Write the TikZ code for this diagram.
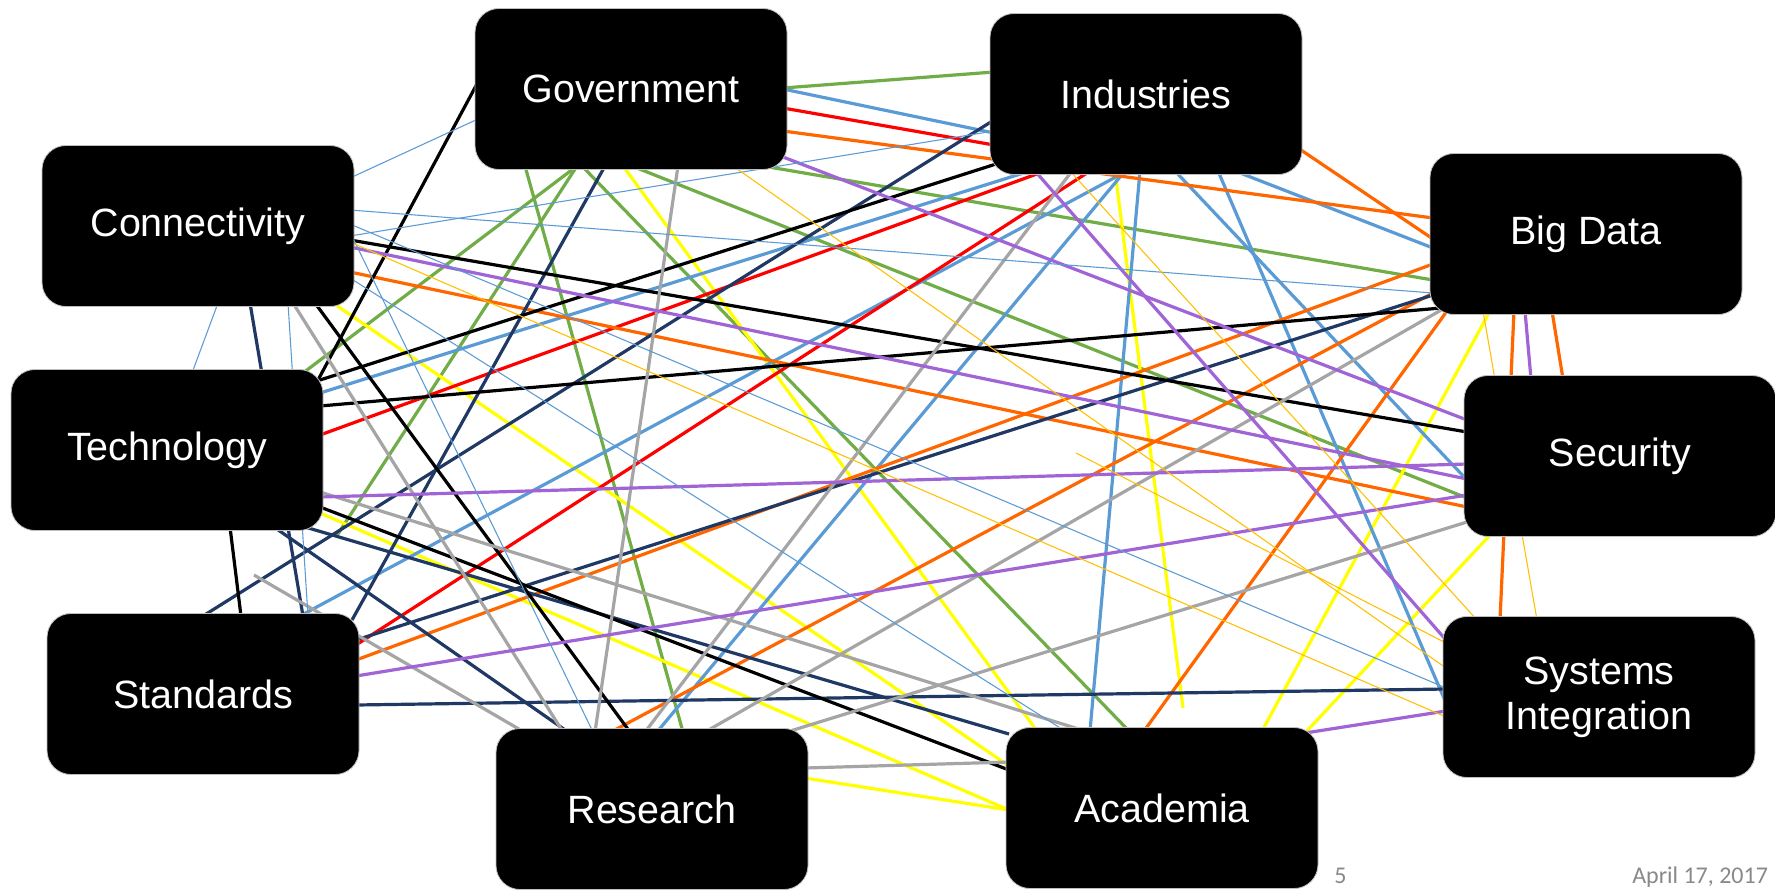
\documentclass[tikz,border=0pt]{standalone}
\usepackage{fontspec}
\setmainfont{Liberation Sans}
\newfontfamily\footfont{Carlito}
\usepackage{xcolor}
\usetikzlibrary{calc,backgrounds}

\definecolor{boxEdge}{RGB}{190,190,190}
\definecolor{lnGreen}{RGB}{112,173,71}
\definecolor{lnBlue}{RGB}{91,155,213}
\definecolor{lnRed}{RGB}{255,0,0}
\definecolor{lnOrange}{RGB}{255,102,0}
\definecolor{lnNavy}{RGB}{31,56,100}
\definecolor{lnGray}{RGB}{165,165,165}
\definecolor{lnYellow}{RGB}{255,255,0}
\definecolor{lnPurple}{RGB}{160,100,214}
\definecolor{lnGold}{RGB}{255,192,0}
\definecolor{footGray}{RGB}{137,137,137}

\begin{document}
\begin{tikzpicture}[x=0.75pt,y=0.75pt,yscale=-1,xscale=1,
  topic/.style={fill=black,draw=boxEdge,line width=0.6pt,rounded corners=18pt,minimum width=234pt,minimum height=120.75pt,inner sep=0pt,text=white,align=center,font=\fontsize{29.6}{34}\selectfont},
  link green/.style={lnGreen,line width=2.4pt},
  link yellow/.style={lnYellow,line width=2.4pt},
  link blue/.style={lnBlue,line width=2.4pt},
  link red/.style={lnRed,line width=2.4pt},
  link orange/.style={lnOrange,line width=2.4pt},
  link navy/.style={lnNavy,line width=2.4pt},
  link black/.style={black,line width=2.4pt},
  link gray/.style={lnGray,line width=2.4pt},
  link purple/.style={lnPurple,line width=2.4pt},
  link thin blue/.style={lnBlue,line width=0.8pt},
  link gold/.style={lnGold,line width=0.8pt},
  footer/.style={anchor=base west,inner sep=0pt,text=footGray,font=\footfont\fontsize{18}{20}\selectfont}]
\useasboundingbox (0,0) rectangle (1775,890);

% Boxes
\node[topic] (gov) at (631,89) {Government};
\node[topic] (ind) at (1146,94) {Industries};
\node[topic] (conn) at (198,226) {Connectivity};
\node[topic] (bigdata) at (1586,234) {Big Data};
\node[topic] (tech) at (167,450) {Technology};
\node[topic] (sec) at (1620,456) {Security};
\node[topic] (std) at (203,694) {Standards};
\node[topic] (sysint) at (1599,697) {Systems\\Integration};
\node[topic] (res) at (652,809) {Research};
\node[topic] (acad) at (1162,808) {Academia};

% loose ends
\coordinate (techgap) at ($(tech)+(169,87)$);
\coordinate (acadgap) at ($(acad)+(21,-100)$);
\coordinate (stdgap) at ($(std)+(51,-119)$);
\coordinate (goldgap) at ($(sysint)+(-523,-244)$);

% Footer
\node[footer] (pagenum) at (1334,883) {5};
\node[footer] (date) at (1632,883) {April 17, 2017};

\begin{pgfonlayer}{background}
\fill[white] (0,0) rectangle (1775,890);

% Government lines
\draw[link green] ($(gov)+(152,-1)$) -- ($(ind)+(-152,-22)$);
\draw[link green] ($(gov)+(132,77)$) -- ($(bigdata)+(-153,46)$);
\draw[link green] ($(gov)+(-54,77)$) -- ($(tech)+(136,-77)$);
\draw[link green] ($(gov)+(-54,77)$) -- (techgap);
\draw[link green] ($(gov)+(-106,77)$) -- ($(res)+(31,-77)$);
\draw[link green] ($(gov)+(-49,77)$) -- ($(acad)+(-33,-77)$);
\draw[link green] ($(gov)+(1,77)$) -- ($(sec)+(-153,42)$);

% Academia lines
\draw[link yellow] ($(conn)+(135,77)$) -- ($(acad)+(-153,-42)$);
\draw[link yellow] ($(tech)+(153,63)$) -- ($(acad)+(-153,2)$);
\draw[link yellow] ($(res)+(153,-31)$) -- ($(acad)+(-153,2)$);
\draw[link yellow] ($(gov)+(-8,77)$) -- ($(acad)+(-125,-77)$);
\draw[link yellow] ($(ind)+(-31,77)$) -- (acadgap);
\draw[link yellow] ($(bigdata)+(-96,77)$) -- ($(acad)+(100,-77)$);
\draw[link yellow] ($(sec)+(-128,77)$) -- ($(acad)+(143,-75)$);

% Industries lines
\draw[link blue] ($(gov)+(152,0)$) -- ($(ind)+(-152,39)$);
\draw[link blue] ($(tech)+(153,-57)$) -- ($(ind)+(-116,77)$);
\draw[link blue] ($(ind)+(-19,77)$) -- ($(std)+(97,-78)$);
\draw[link blue] ($(ind)+(-21,77)$) -- ($(res)+(5,-77)$);
\draw[link blue] ($(ind)+(-6,77)$) -- ($(acad)+(-72,-77)$);
\draw[link blue] ($(ind)+(29,77)$) -- ($(sec)+(-153,24)$);
\draw[link blue] ($(ind)+(72,77)$) -- ($(sysint)+(-153,6)$);
\draw[link blue] ($(ind)+(89,77)$) -- ($(bigdata)+(-153,14)$);
\draw[link red] ($(gov)+(152,19)$) -- ($(ind)+(-152,51)$);
\draw[link red] ($(tech)+(153,-15)$) -- ($(ind)+(-101,77)$);
\draw[link red] ($(std)+(153,-49)$) -- ($(ind)+(-56,77)$);

% Big Data lines
\draw[link orange] ($(gov)+(152,42)$) -- ($(bigdata)+(-153,-16)$);
\draw[link orange] ($(ind)+(152,54)$) -- ($(bigdata)+(-153,5)$);
\draw[link orange] ($(conn)+(152,46)$) -- ($(sec)+(-153,51)$);
\draw[link orange] ($(std)+(153,-34)$) -- ($(bigdata)+(-153,30)$);
\draw[link orange] ($(res)+(-41,-77)$) -- ($(bigdata)+(-153,59)$);
\draw[link orange] ($(acad)+(-18,-77)$) -- ($(bigdata)+(-139,77)$);
\draw[link orange] ($(bigdata)+(-72,77)$) -- ($(sysint)+(-99,-77)$);
\draw[link orange] ($(bigdata)+(-34,77)$) -- ($(sec)+(-57,-77)$);

% Standards lines
\draw[link navy] ($(conn)+(52,77)$) -- ($(std)+(100,-78)$);
\draw[link navy] ($(gov)+(-26,77)$) -- ($(std)+(149,-74)$);
\draw[link navy] ($(std)+(0,-78)$) -- ($(ind)+(-152,26)$);
\draw[link navy] ($(tech)+(107,77)$) -- ($(res)+(-84,-77)$);
\draw[link navy] ($(tech)+(138,77)$) -- ($(acad)+(-153,-74)$);
\draw[link navy] ($(std)+(153,11)$) -- ($(sysint)+(-153,-8)$);
\draw[link navy] ($(std)+(153,-54)$) -- ($(bigdata)+(-153,61)$);

% Technology lines
\draw[link black] ($(gov)+(-153,-7)$) -- ($(tech)+(151,-70)$);
\draw[link black] ($(tech)+(153,-70)$) -- ($(ind)+(-150,70)$);
\draw[link black] ($(tech)+(153,-44)$) -- ($(bigdata)+(-145,74)$);
\draw[link black] ($(conn)+(152,14)$) -- ($(sec)+(-153,-24)$);
\draw[link black] ($(conn)+(117,77)$) -- ($(res)+(-22,-77)$);
\draw[link black] ($(tech)+(153,57)$) -- ($(acad)+(-153,-38)$);
\draw[link black] ($(tech)+(63,77)$) -- ($(std)+(38,-78)$);

% Research lines
\draw[link gray] ($(gov)+(47,77)$) -- ($(res)+(-57,-77)$);
\draw[link gray] ($(conn)+(95,77)$) -- ($(res)+(-89,-77)$);
\draw[link gray] ($(ind)+(-74,77)$) -- ($(res)+(-7,-77)$);
\draw[link gray] ($(res)+(53,-77)$) -- ($(bigdata)+(-143,75)$);
\draw[link gray] ($(res)+(135,-77)$) -- ($(sec)+(-153,66)$);
\draw[link gray] ($(res)+(153,-41)$) -- ($(acad)+(-153,-46)$);
\draw[link gray] ($(tech)+(153,42)$) -- ($(acad)+(-77,-77)$);
\draw[link gray] (stdgap) -- ($(res)+(-128,-77)$);

% Security lines
\draw[link purple] ($(gov)+(152,68)$) -- ($(sec)+(-153,-36)$);
\draw[link purple] ($(tech)+(153,47)$) -- ($(sec)+(-153,8)$);
\draw[link purple] ($(conn)+(152,21)$) -- ($(sec)+(-153,23)$);
\draw[link purple] ($(std)+(153,-18)$) -- ($(sec)+(-153,39)$);
\draw[link purple] ($(ind)+(-111,77)$) -- ($(sysint)+(-153,-57)$);
\draw[link purple] ($(bigdata)+(-61,77)$) -- ($(sec)+(-89,-77)$);
\draw[link purple] ($(acad)+(143,-75)$) -- ($(sysint)+(-153,14)$);

% Connectivity lines
\draw[link thin blue] ($(conn)+(152,-48)$) -- ($(gov)+(-153,30)$);
\draw[link thin blue] ($(conn)+(152,-16)$) -- ($(bigdata)+(-153,59)$);
\draw[link thin blue] ($(conn)+(152,-2)$) -- ($(sysint)+(-153,-9)$);
\draw[link thin blue] ($(conn)+(152,6)$) -- ($(res)+(-59,-77)$);
\draw[link thin blue] ($(conn)+(152,10)$) -- ($(ind)+(-152,37)$);
\draw[link thin blue] ($(conn)+(152,52)$) -- ($(acad)+(-97,-77)$);
\draw[link thin blue] ($(conn)+(20,77)$) -- ($(tech)+(25,-77)$);
\draw[link thin blue] ($(conn)+(90,77)$) -- ($(std)+(105,-78)$);

% Systems Integration lines
\draw[link gold] ($(conn)+(152,16)$) -- ($(sysint)+(-153,20)$);
\draw[link gold] ($(gov)+(102,77)$) -- ($(sysint)+(-153,-29)$);
\draw[link gold] ($(ind)+(-76,77)$) -- ($(sysint)+(-122,-77)$);
\draw[link gold] (goldgap) -- ($(sysint)+(-153,-54)$);
\draw[link gold] ($(bigdata)+(-103,77)$) -- ($(sysint)+(-62,-77)$);
\end{pgfonlayer}

\end{tikzpicture}
\end{document}
